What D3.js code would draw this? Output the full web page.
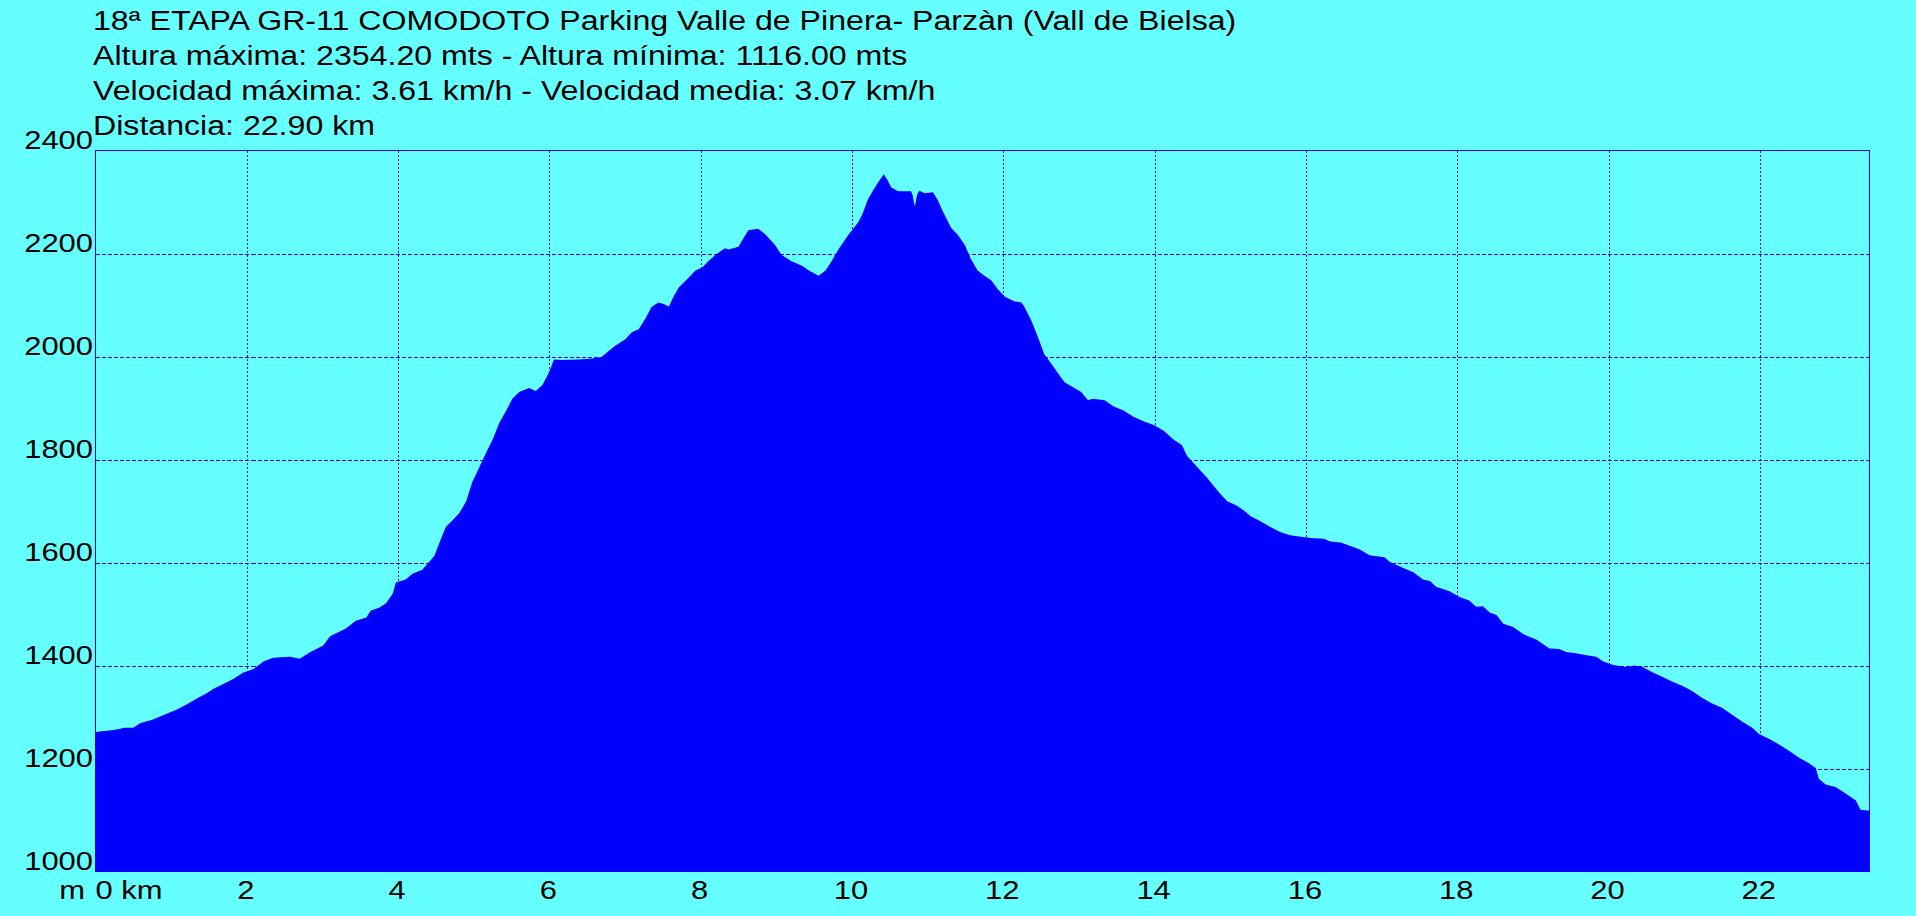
<!DOCTYPE html>
<html>
<head>
<meta charset="utf-8">
<script src="https://cdn.jsdelivr.net/npm/d3@7/dist/d3.min.js"></script>
<style>
  html, body { margin: 0; padding: 0; background: #66FFFF; overflow: hidden; }
  svg { display: block; }
  text { font-family: "Liberation Sans", Arial, sans-serif; fill: #000; }
</style>
</head>
<body>
<svg id="chart" width="1916" height="916"></svg>
<script>
// ---- data ----
const titleLines = [
  "18ª ETAPA GR-11 COMODOTO Parking Valle de Pinera- Parzàn (Vall de Bielsa)",
  "Altura máxima: 2354.20 mts - Altura mínima: 1116.00 mts",
  "Velocidad máxima: 3.61 km/h - Velocidad media: 3.07 km/h",
  "Distancia: 22.90 km"
];
const yTicks = [1000, 1200, 1400, 1600, 1800, 2000, 2200, 2400];
const xTicks = [0, 2, 4, 6, 8, 10, 12, 14, 16, 18, 20, 22];
const xTickLabels = ["0 km", "2", "4", "6", "8", "10", "12", "14", "16", "18", "20", "22"];
const yUnitLabel = "m";

const distKm = [
  0, 0.24, 0.39, 0.50, 0.59, 0.76, 0.90, 1.07, 1.21, 1.34, 1.47, 1.56, 1.69, 1.82, 1.95,
  2.09, 2.22, 2.35, 2.57, 2.70, 2.84, 3.01, 3.10, 3.31,
  3.44, 3.58, 3.64, 3.75, 3.84, 3.93, 3.97, 4.10, 4.19, 4.32, 4.41, 4.48, 4.54, 4.63, 4.72,
  4.81, 4.90, 4.98, 5.07, 5.16, 5.25, 5.34, 5.43, 5.51, 5.60, 5.73, 5.82, 5.91, 6.00, 6.06,
  6.17, 6.39, 6.57, 6.69,
  6.78, 6.87, 7.00, 7.09, 7.18, 7.27, 7.35, 7.44, 7.51, 7.58, 7.64, 7.71, 7.84, 7.93, 8.02,
  8.10, 8.21, 8.32, 8.37, 8.50, 8.57, 8.63, 8.76, 8.85, 8.98, 9.07, 9.20, 9.34, 9.43, 9.56,
  9.65, 9.73, 9.82, 9.95, 10.08,
  10.14, 10.21, 10.28, 10.34, 10.42, 10.47, 10.52, 10.61, 10.69, 10.78, 10.80, 10.83, 10.86,
  10.89, 10.96, 11.07, 11.13, 11.20, 11.31, 11.40, 11.49, 11.57, 11.66, 11.75, 11.84, 11.93,
  12.02, 12.15, 12.24, 12.28, 12.37, 12.46, 12.54, 12.63, 12.72, 12.81, 12.94, 13.03, 13.12,
  13.18, 13.34, 13.46,
  13.59, 13.72, 13.86, 13.99, 14.12, 14.25, 14.36, 14.43, 14.56, 14.69, 14.78, 14.87, 14.96,
  15.09, 15.18, 15.27, 15.40, 15.53, 15.66, 15.79, 15.93, 16.10, 16.24, 16.32, 16.46, 16.59,
  16.72, 16.84,
  17.04, 17.11, 17.28, 17.42, 17.55, 17.64, 17.72, 17.90, 18.03, 18.16, 18.25, 18.34, 18.43,
  18.52, 18.61, 18.74, 18.87, 19.05, 19.22, 19.35, 19.44, 19.57, 19.71, 19.84, 19.93, 20.06,
  20.23,
  20.34, 20.45, 20.58, 20.71, 20.84, 20.98, 21.11, 21.24, 21.37, 21.50, 21.64, 21.77, 21.90,
  21.99, 22.12, 22.25, 22.38, 22.52, 22.65, 22.74, 22.78, 22.87, 23.00, 23.13, 23.27, 23.33,
  23.45
];
const elevM = [
  1271, 1275, 1279, 1279, 1288, 1295, 1304, 1314, 1325, 1336, 1346, 1355, 1364, 1374, 1386,
  1393, 1408, 1415, 1417, 1413, 1426, 1439, 1457, 1472,
  1487, 1493, 1507, 1512, 1521, 1540, 1561, 1567, 1578, 1586, 1601, 1613, 1636, 1669, 1682,
  1696, 1719, 1756, 1784, 1812, 1839, 1872, 1895, 1918, 1931, 1939, 1933, 1945, 1971, 1994,
  1993, 1994, 1996, 1999,
  2010, 2021, 2033, 2047, 2053, 2074, 2096, 2105, 2102, 2097, 2116, 2134, 2153, 2167, 2173,
  2185, 2199, 2210, 2208, 2213, 2231, 2245, 2248, 2238, 2217, 2197, 2185, 2176, 2167, 2157,
  2167, 2185, 2208, 2236, 2260,
  2277, 2305, 2323, 2337, 2354, 2342, 2328, 2321, 2321, 2321, 2314, 2291, 2314,
  2322, 2317, 2319, 2305, 2282, 2250, 2236, 2217, 2190, 2167, 2157, 2148, 2130,
  2116, 2107, 2105, 2096, 2070, 2037, 2005, 1987, 1968, 1950, 1939, 1931, 1915,
  1918, 1915, 1903,
  1895, 1883, 1874, 1867, 1856, 1839, 1828, 1807, 1786, 1765, 1749, 1733, 1719,
  1710, 1701, 1690, 1680, 1669, 1659, 1653, 1650, 1647, 1646, 1641, 1639, 1632,
  1625, 1614,
  1610, 1601, 1590, 1581, 1567, 1564, 1553, 1544, 1533, 1526, 1514, 1515, 1503,
  1498, 1481, 1475, 1461, 1450, 1433, 1432, 1426, 1424, 1420, 1417, 1408, 1401,
  1397,
  1400, 1397, 1387, 1378, 1369, 1360, 1350, 1337, 1326, 1318, 1304, 1291, 1279,
  1267, 1258, 1247, 1235, 1221, 1210, 1201, 1180, 1169, 1164, 1152, 1138, 1120,
  1118
];

// ---- layout ----
const W = 1916, H = 916;
const plot = { left: 95.5, right: 1869.5, top: 150.5, bottom: 871.5 };
const textScaleX = 1.19;

const svg = d3.select("#chart");
svg.append("rect").attr("width", W).attr("height", H).attr("fill", "#66FFFF");

const x = d3.scaleLinear().domain([0, 23.45]).range([plot.left, plot.right]);
const y = d3.scaleLinear().domain([1000, 2400]).range([plot.bottom, plot.top]);

// grid
const grid = svg.append("g").attr("shape-rendering", "crispEdges");
grid.selectAll("line.h").data(yTicks.filter(v => v > 1000 && v < 2400)).enter()
  .append("line")
  .attr("x1", plot.left).attr("x2", plot.right)
  .attr("y1", d => Math.round(y(d)) + 0.5).attr("y2", d => Math.round(y(d)) + 0.5)
  .attr("stroke", "#0000FF").attr("stroke-width", 1).attr("stroke-dasharray", "4,2");
grid.selectAll("line.v").data(xTicks.filter(v => v > 0)).enter()
  .append("line")
  .attr("x1", d => Math.round(x(d)) + 0.5).attr("x2", d => Math.round(x(d)) + 0.5)
  .attr("y1", plot.top).attr("y2", plot.bottom)
  .attr("stroke", "#0000FF").attr("stroke-width", 1).attr("stroke-dasharray", "2,2");

// area
const pts = distKm.map((d, i) => [d, elevM[i]]);
const area = d3.area()
  .x(d => x(d[0]))
  .y0(y(1000))
  .y1(d => y(d[1]))
  .curve(d3.curveLinear);
svg.append("path").datum(pts).attr("d", area).attr("fill", "#0000FF");

// frame
svg.append("rect")
  .attr("x", plot.left).attr("y", plot.top)
  .attr("width", plot.right - plot.left).attr("height", plot.bottom - plot.top)
  .attr("fill", "none").attr("stroke", "#0000FF").attr("stroke-width", 1)
  .attr("shape-rendering", "crispEdges");

// y tick labels
svg.append("g").selectAll("text").data(yTicks).enter().append("text")
  .attr("transform", d => `translate(93,${y(d) - 2}) scale(${textScaleX},1)`)
  .attr("text-anchor", "end")
  .style("font-size", "26px")
  .text(d => d);

// x tick labels
svg.append("g").selectAll("text").data(xTicks).enter().append("text")
  .attr("transform", (d, i) => i === 0
    ? `translate(${x(d)},899) scale(${textScaleX},1)`
    : `translate(${x(d) - 1},899) scale(${textScaleX},1)`)
  .attr("text-anchor", (d, i) => i === 0 ? "start" : "middle")
  .style("font-size", "26px")
  .text((d, i) => xTickLabels[i]);

svg.append("text")
  .attr("transform", `translate(85,899) scale(${textScaleX},1)`)
  .attr("text-anchor", "end")
  .style("font-size", "26px")
  .text(yUnitLabel);

// title lines
svg.append("g").selectAll("text").data(titleLines).enter().append("text")
  .attr("transform", (d, i) => `translate(93,${29.5 + i * 35}) scale(${textScaleX},1)`)
  .style("font-size", "27px")
  .text(d => d);
</script>
</body>
</html>
